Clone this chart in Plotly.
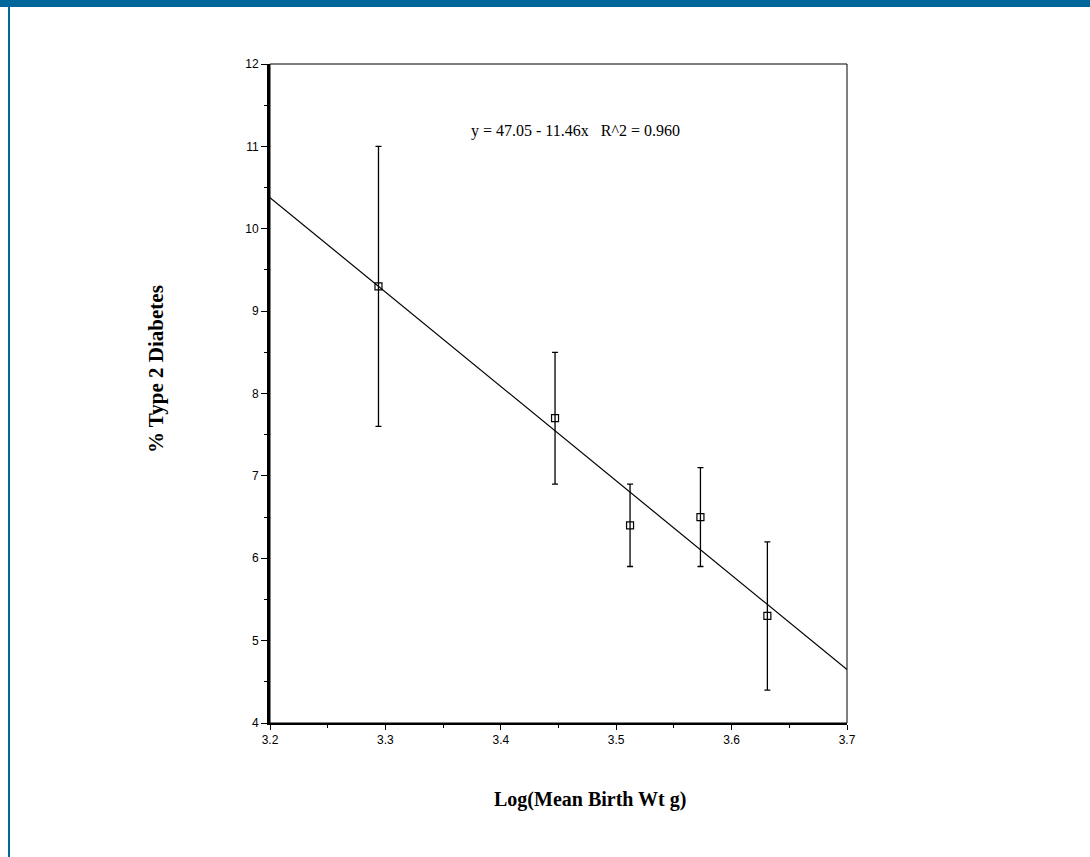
import plotly.graph_objects as go

# Birth-weight groups: log10 of mean birth weight (g) vs % with type 2 diabetes
log_birth_wt = [3.294, 3.447, 3.512, 3.573, 3.631]
pct_diabetes = [9.3, 7.7, 6.4, 6.5, 5.3]
ci_upper = [11.0, 8.5, 6.9, 7.1, 6.2]
ci_lower = [7.6, 6.9, 5.9, 5.9, 4.4]

# Fitted regression
intercept = 47.05
slope = -11.46
r_squared = 0.960
fit_x = [3.2, 3.7]
fit_y = [intercept + slope * v for v in fit_x]

x_ticks = [3.2, 3.3, 3.4, 3.5, 3.6, 3.7]
y_ticks = [4, 5, 6, 7, 8, 9, 10, 11, 12]

err_plus = [u - m for u, m in zip(ci_upper, pct_diabetes)]
err_minus = [m - l for m, l in zip(pct_diabetes, ci_lower)]

fig = go.Figure()

fig.add_trace(go.Scatter(
    x=fit_x, y=fit_y, mode="lines",
    line=dict(color="black", width=1.2),
    showlegend=False, hoverinfo="skip",
))

fig.add_trace(go.Scatter(
    x=log_birth_wt, y=pct_diabetes, mode="markers",
    marker=dict(symbol="square-open", size=7, color="black", line=dict(width=1.2)),
    error_y=dict(type="data", symmetric=False, array=err_plus, arrayminus=err_minus,
                 color="black", thickness=1.3, width=3),
    showlegend=False,
))

# page dimensions and plot frame in pixels
W, H = 1090, 857
L, R, T, B = 270, 847, 64, 723
pw, ph = R - L, B - T


def px_x(p):
    return (p - L) / pw


def px_y(p):
    return (B - p) / ph


fig.update_layout(
    width=W, height=H,
    margin=dict(l=L, r=W - R, t=T, b=H - B, pad=0),
    paper_bgcolor="white", plot_bgcolor="white",
    font=dict(family="Liberation Sans, Arial, sans-serif", size=12, color="black"),
    xaxis=dict(
        range=[3.2, 3.7], tickvals=x_ticks, ticktext=[f"{v:.1f}" for v in x_ticks],
        showgrid=False, zeroline=False, showline=True, linewidth=2, linecolor="black",
        ticks="outside", ticklen=5, tickwidth=1, tickcolor="black",
        minor=dict(dtick=0.05, tick0=3.2, ticks="outside", ticklen=3, tickcolor="black", showgrid=False),
        tickfont=dict(size=12),
    ),
    yaxis=dict(
        range=[4, 12], tickvals=y_ticks,
        showgrid=False, zeroline=False, showline=True, linewidth=3, linecolor="black",
        ticks="outside", ticklen=6, tickwidth=1, tickcolor="black",
        minor=dict(dtick=0.5, tick0=4, ticks="outside", ticklen=3, tickcolor="black", showgrid=False),
        tickfont=dict(size=12),
    ),
    shapes=[
        # plot frame (top and right edges thinner than the axes)
        dict(type="rect", xref="paper", yref="paper", x0=0, x1=1, y0=0, y1=1,
             line=dict(color="black", width=1), layer="above"),
        # blue header band
        dict(type="rect", xref="paper", yref="paper",
             x0=px_x(0), x1=px_x(W), y0=px_y(7), y1=px_y(0),
             fillcolor="#00669c", line=dict(width=0), layer="above"),
        # blue left rule
        dict(type="rect", xref="paper", yref="paper",
             x0=px_x(8), x1=px_x(10), y0=px_y(H), y1=px_y(0),
             fillcolor="#00669c", line=dict(width=0), layer="above"),
    ],
    annotations=[
        dict(text=f"y = {intercept:.2f} - {abs(slope):.2f}x   R^2 = {r_squared:.3f}",
             xref="paper", yref="paper", x=px_x(575), y=px_y(131),
             showarrow=False, xanchor="center", yanchor="middle",
             font=dict(family="Liberation Serif, Times New Roman, serif", size=16)),
        dict(text="<b>Log(Mean Birth Wt g)</b>",
             xref="paper", yref="paper", x=px_x(590), y=px_y(799),
             showarrow=False, xanchor="center", yanchor="middle",
             font=dict(family="Liberation Serif, Times New Roman, serif", size=20)),
        dict(text="<b>% Type 2 Diabetes</b>", textangle=-90,
             xref="paper", yref="paper", x=px_x(156), y=px_y(369),
             showarrow=False, xanchor="center", yanchor="middle",
             font=dict(family="Liberation Serif, Times New Roman, serif", size=21)),
    ],
)

fig.write_html("out.html")
